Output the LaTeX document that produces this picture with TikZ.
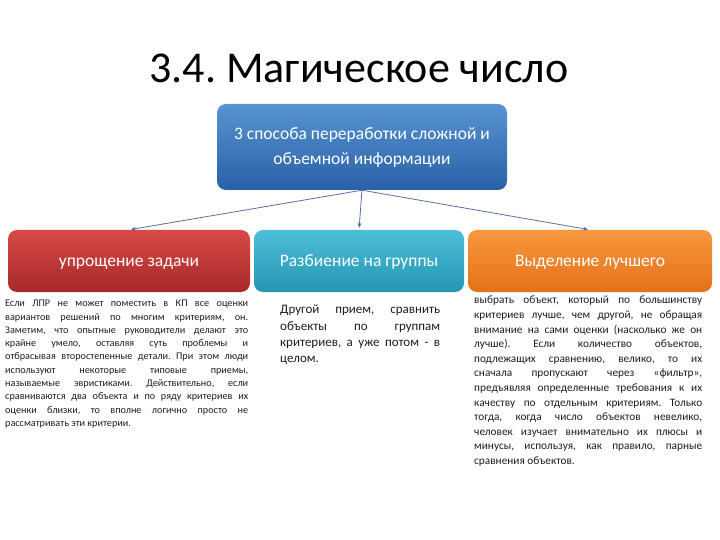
\documentclass[tikz,border=0pt]{standalone}
\usepackage{fontspec}
\setmainfont{Carlito}
\usetikzlibrary{arrows.meta}
\definecolor{blueTop}{RGB}{88,148,208}
\definecolor{blueBot}{RGB}{42,96,168}
\definecolor{redTop}{RGB}{214,74,70}
\definecolor{redBot}{RGB}{168,40,42}
\definecolor{tealTop}{RGB}{78,190,216}
\definecolor{tealBot}{RGB}{36,150,178}
\definecolor{orangeTop}{RGB}{248,152,62}
\definecolor{orangeBot}{RGB}{228,112,26}
\definecolor{linkcol}{RGB}{84,112,160}
\definecolor{paracol}{RGB}{30,30,30}
\frenchspacing
\def\paraspace{\spaceskip=0.22em plus 2em minus 0.12em\relax}
\tikzset{
  box/.style={rounded corners=9pt, text=white, align=center, inner sep=2pt},
  way/.style={box, minimum height=62pt, text height=11pt, text depth=1pt, font=\fontsize{17.5}{20}\selectfont},
  link/.style={-{Stealth[length=5pt,width=4pt]}, linkcol, line width=0.8pt, shorten >=2pt},
  para/.style={anchor=north west, align=justify, inner sep=0pt, text=paracol}
}
\begin{document}
\begin{tikzpicture}[x=1pt, y=-1pt]
		\useasboundingbox (0,0) rectangle (720,540);
		\node (title) at (359,68) {\fontsize{44}{48}\selectfont 3.4. Магическое число};
		% top box
		\node[box, top color=blueTop, bottom color=blueBot, minimum width=290pt, minimum height=86pt,
			font=\fontsize{17.5}{25}\selectfont] (root) at (362,147)
			{3 способа переработки сложной и\\ объемной информации};
		% three ways
		\node[way, top color=redTop, bottom color=redBot, minimum width=242pt] (simplify) at (129,261) {упрощение задачи};
		\node[way, top color=tealTop, bottom color=tealBot, minimum width=210pt] (split) at (359,261) {Разбиение на группы};
		\node[way, top color=orangeTop, bottom color=orangeBot, minimum width=244pt] (best) at (590,261) {Выделение лучшего};
		\draw[link] (root.south) -- (simplify.north);
		\draw[link] (root.south) -- (split.north);
		\draw[link] (root.south) -- (best.north);
		% descriptions
		\node[para, text width=243pt, font=\fontsize{10.2}{13.3}\selectfont\paraspace]
			(simplifytext) at (5,300) {
			Если ЛПР не может поместить в КП все оценки\linebreak
			вариантов решений по многим критериям, он.\linebreak
			Заметим, что опытные руководители делают это\linebreak
			крайне умело, оставляя суть проблемы и\linebreak
			отбрасывая второстепенные детали. При этом люди\linebreak
			используют некоторые типовые приемы,\linebreak
			называемые эвристиками. Действительно, если\linebreak
			сравниваются два объекта и по ряду критериев их\linebreak
			оценки близки, то вполне логично просто не\linebreak
			рассматривать эти критерии.};
		\node[para, text width=160pt, font=\fontsize{13}{16.3}\selectfont\paraspace]
			(splittext) at (280,305) {
			Другой прием, сравнить\linebreak
			объекты по группам\linebreak
			критериев, а уже потом - в\linebreak
			целом.};
		\node[para, text width=228pt, font=\fontsize{11.3}{14.6}\selectfont\paraspace]
			(besttext) at (474,296) {
			выбрать объект, который по большинству\linebreak
			критериев лучше, чем другой, не обращая\linebreak
			внимание на сами оценки (насколько же он\linebreak
			лучше). Если количество объектов,\linebreak
			подлежащих сравнению, велико, то их\linebreak
			сначала пропускают через «фильтр»,\linebreak
			предъявляя определенные требования к их\linebreak
			качеству по отдельным критериям. Только\linebreak
			тогда, когда число объектов невелико,\linebreak
			человек изучает внимательно их плюсы и\linebreak
			минусы, используя, как правило, парные\linebreak
			сравнения объектов.};
\end{tikzpicture}
\end{document}
